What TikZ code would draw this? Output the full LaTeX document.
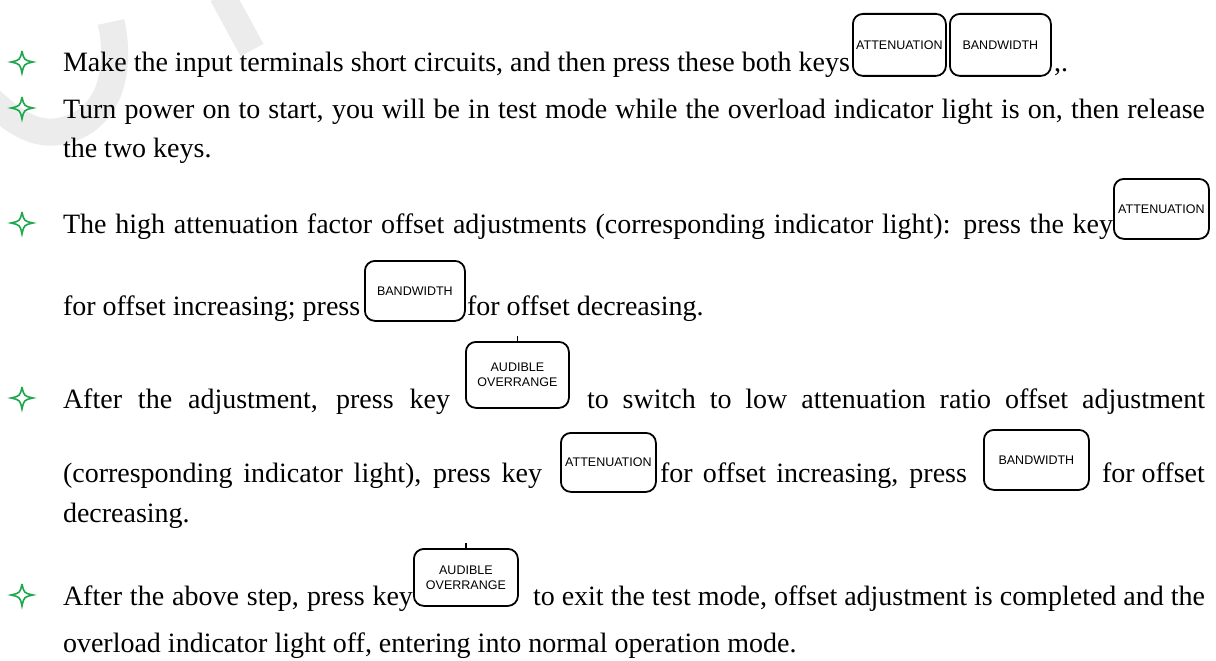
\documentclass[tikz,border=0pt]{standalone}
\usepackage{fontspec}
\setmainfont{Liberation Serif}
\newfontfamily\keyfont{Liberation Sans}
\definecolor{bulletgreen}{RGB}{30,168,78}
\definecolor{wmgray}{RGB}{236,236,236}
\tikzset{
  txt/.style={anchor=base west, inner sep=0pt, outer sep=0pt, font=\fontsize{28}{34}\selectfont},
  keybox/.style={draw, line width=1.8pt, rounded corners=10pt, inner sep=0pt, anchor=north west,
    font=\keyfont\fontsize{12.5}{15}\selectfont, align=center},
  starbullet/.pic={\draw[bulletgreen, line width=1.6pt, line join=miter]
    (0,-11) .. controls (2,-2) .. (11,0) .. controls (2,2) .. (0,11)
    .. controls (-2,2) .. (-11,0) .. controls (-2,-2) .. (0,-11);}
}
\begin{document}
\begin{tikzpicture}[x=1pt,y=-1pt]
\fill[white] (0,0) rectangle (1216,661);
\useasboundingbox (0,0) rectangle (1216,661);
% watermark
\draw[wmgray, line width=27pt] (111,22) .. controls (122,70) and (110,125) .. (55,132)
  .. controls (30,134) and (10,118) .. (-10,100);
\draw[wmgray, line width=26pt] (222,-5) -- (252,50);
% bullets
\pic at (22,62) {starbullet};
\pic at (22,108) {starbullet};
\pic at (22,223) {starbullet};
\pic at (22,398) {starbullet};
\pic at (22,595) {starbullet};
% row 1
\node[txt] (r1) at (63,72) {Make the input terminals short circuits, and then press these both keys};
\node[keybox, minimum width=93pt, minimum height=62pt] (k1a) at (852,13) {ATTENUATION};
\node[keybox, minimum width=101pt, minimum height=62pt] (k1b) at (949,13) {BANDWIDTH};
\node[txt] (r1e) at (1054,72) {,.};
% row 2
\node[txt] (r2a) at (63,118) {\makebox[1142pt][s]{Turn power on to start, you will be in test mode while the overload indicator light is on, then release}};
\node[txt] (r2b) at (63,157) {the two keys.};
% row 3
\node[txt] (r3a) at (63,233) {\makebox[1050pt][s]{The high attenuation factor offset adjustments (corresponding indicator light): press the key}};
\node[keybox, minimum width=95pt, minimum height=60pt] (k3a) at (1113,178) {ATTENUATION};
\node[txt] (r3b) at (63,315) {for offset increasing; press};
\node[keybox, minimum width=100pt, minimum height=60pt] (k3b) at (364,260) {BANDWIDTH};
\node[txt] (r3c) at (467,315) {for offset decreasing.};
% row 4
\node[txt] (r4a) at (63,408) {\makebox[387pt][s]{After the adjustment, press key}};
\node[keybox, minimum width=103pt, minimum height=66pt] (k4a) at (465,341) {AUDIBLE\\OVERRANGE};
\draw[line width=1.2pt] (k4a.north) -- ++(0,-5);
\node[txt] (r4b) at (587,408) {\makebox[618pt][s]{to switch to low attenuation ratio offset adjustment}};
\node[txt] (r4c) at (63,482) {\makebox[479pt][s]{(corresponding indicator light), press key}};
\node[keybox, minimum width=95pt, minimum height=59pt] (k4b) at (560,432) {ATTENUATION};
\node[txt] (r4d) at (660,482) {\makebox[307pt][s]{for offset increasing, press}};
\node[keybox, minimum width=105pt, minimum height=60pt] (k4c) at (983,429) {BANDWIDTH};
\node[txt] (r4e) at (1102,482) {for offset};
\node[txt] (r4f) at (63,522) {decreasing.};
% row 5
\node[txt] (r5a) at (63,605) {\makebox[350pt][s]{After the above step, press key}};
\node[keybox, minimum width=104pt, minimum height=57pt] (k5a) at (413,548) {AUDIBLE\\OVERRANGE};
\draw[line width=1.2pt] (k5a.north) -- ++(0,-5);
\node[txt] (r5b) at (533,605) {\makebox[672pt][s]{to exit the test mode, offset adjustment is completed and the}};
\node[txt] (r5c) at (63,652) {overload indicator light off, entering into normal operation mode.};
\end{tikzpicture}
\end{document}
